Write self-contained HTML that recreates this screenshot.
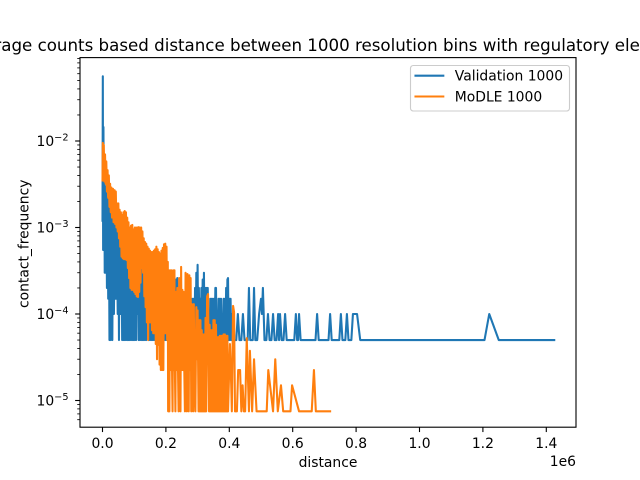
<!DOCTYPE html>
<html>
<head>
<meta charset="utf-8">
<title>Chart</title>
<style>
html,body{margin:0;padding:0;background:#fff;}
svg{display:block;font-family:"DejaVu Sans","Liberation Sans",sans-serif;fill:#000;}
</style>
</head>
<body>
<svg id="chart" width="640" height="480" viewBox="0 0 640 480" xmlns="http://www.w3.org/2000/svg">
<defs><clipPath id="plot-clip"><rect x="80" y="57.6" width="496" height="369.6"/></clipPath></defs>
<rect x="0" y="0" width="640" height="480" fill="#fff"/>
<g id="series" clip-path="url(#plot-clip)"></g>
<g id="ticks"></g>
<rect x="80" y="57.6" width="496" height="369.6" fill="none" stroke="#000" stroke-width="1.11"/>
<text x="328" y="51" font-size="16.67" text-anchor="middle">Average counts based distance between 1000 resolution bins with regulatory elements</text>
<text x="328" y="467" font-size="13.89" text-anchor="middle">distance</text>
<text x="0" y="0" font-size="13.89" text-anchor="middle" transform="translate(28.5 243.8) rotate(-90)">contact_frequency</text>
<text x="576" y="466" font-size="13.89" text-anchor="end">1e6</text>
<g>
<rect x="410.5" y="65.5" width="159" height="45.5" rx="2.8" fill="#fff" fill-opacity="0.8" stroke="#ccc" stroke-width="1.11"/>
<line x1="415.5" x2="443.3" y1="75.7" y2="75.7" stroke="#1f77b4" stroke-width="2.08" stroke-linecap="square"/>
<text x="454.8" y="80.6" font-size="13.89">Validation 1000</text>
<line x1="415.5" x2="443.3" y1="96.5" y2="96.5" stroke="#ff7f0e" stroke-width="2.08" stroke-linecap="square"/>
<text x="454.8" y="101.6" font-size="13.89">MoDLE 1000</text>
</g>
</svg>
<script>
// Distances are in kilobases; values are contact frequency.
const validationDistance = [
0,1,2,3,4,6,7,9,10,12,
14,16,18,20,22,24,26,28,31,33,
36,39,42,45,48,50,52,54,57,60,
62,64,66,68,70,72,74,76,78,80,
82,84,86,88,90,92,94,96,98,100,
102,104,106,108,110,112,114,116,118,120,
122,124,126,128,130,132,134,136,138,140,
142,144,146,148,150,152,154,156,158,160,
162,164,166,168,170,172,174,176,178,180,
182,184,186,188,190,192,194,196,198,200,
202,204,206,208,210,212,214,216,218,220,
222,224,226,228,230,232,234,236,238,240,
242,244,246,248,250,252,254,256,258,260,
262,264,266,268,270,272,274,276,278,280,
282,284,286,288,290,292,294,296,298,300,
302,304,306,308,310,312,314,316,318,320,
322,324,326,328,330,332,334,336,338,340,
342,344,346,348,350,352,354,356,358,360,
362,364,366,368,370,372,374,376,378,380,
382,384,386,388,390,392,394,396,398,400,
402,404,406,408,411,422,427,432,438,443,
448,458,462,466,474,478,482,488,494,500,
503,506,511,517,522,527,533,538,543,549,
554,557,560,565,571,576,581,605,610,614,
617,620,625,672,677,682,713,718,723,747,
752,757,766,771,776,785,790,793,797,803,
813,1205,1220,1250,1425
];
const validationValue = [
1.2e-3,5.6e-2,5.5e-4,1.45e-2,1.2e-3,3.5e-3,3e-4,3e-3,3e-4,2.5e-3,
2e-4,2.2e-3,1.5e-4,1.9e-3,5e-5,1.8e-3,5e-5,1.6e-3,5e-5,1.4e-3,
1e-4,1.3e-3,1.5e-4,1.2e-3,1e-4,1.1e-3,5e-5,1e-3,1e-4,1e-3,
5e-5,9e-4,5e-5,9e-4,5e-5,9e-4,5e-5,8.5e-4,5e-5,8e-4,
5e-5,8e-4,5e-5,8e-4,5e-5,7.5e-4,5e-5,7.5e-4,5e-5,7e-4,
5e-5,7e-4,5e-5,7e-4,1e-4,7e-4,5e-5,6.5e-4,5e-5,6e-4,
5e-5,5.5e-4,5e-5,5e-4,5e-5,5e-4,5e-5,5e-4,5e-5,4.8e-4,
1e-4,4.8e-4,5e-5,4.6e-4,5e-5,4.5e-4,5e-5,4.5e-4,5e-5,4.2e-4,
5e-5,4.2e-4,5e-5,4e-4,5e-5,3.8e-4,5e-5,3.6e-4,5e-5,3.4e-4,
5e-5,3.2e-4,5e-5,3e-4,5e-5,2.6e-4,5e-5,2.5e-4,5e-5,2.4e-4,
5e-5,2.4e-4,5e-5,2.6e-4,5e-5,2.4e-4,5e-5,2.2e-4,5e-5,2.2e-4,
5e-5,2.2e-4,5e-5,2.2e-4,5e-5,2.5e-4,5e-5,2.6e-4,5e-5,2e-4,
5e-5,2e-4,5e-5,1.5e-4,5e-5,1.5e-4,5e-5,1.5e-4,5e-5,1.5e-4,
5e-5,1.5e-4,5e-5,1.5e-4,5e-5,1.5e-4,5e-5,1.5e-4,5e-5,1.5e-4,
5e-5,1.5e-4,5e-5,1.5e-4,5e-5,2e-4,5e-5,3e-4,5e-5,3.7e-4,
5e-5,2e-4,5e-5,1.5e-4,5e-5,2e-4,5e-5,2.5e-4,5e-5,3e-4,
5e-5,2e-4,5e-5,2e-4,5e-5,2e-4,5e-5,1e-4,5e-5,1.5e-4,
5e-5,1.5e-4,5e-5,1.5e-4,5e-5,1.5e-4,5e-5,2e-4,2e-4,5e-5,
1e-4,5e-5,1.5e-4,5e-5,1.5e-4,5e-5,1.5e-4,5e-5,1e-4,5e-5,
1.5e-4,5e-5,1.5e-4,5e-5,2e-4,5e-5,2.5e-4,2.6e-4,5e-5,1.5e-4,
5e-5,1.5e-4,5e-5,1e-4,5e-5,5e-5,1e-4,5e-5,5e-5,1e-4,
5e-5,5e-5,2e-4,5e-5,5e-5,2e-4,5e-5,5e-5,1e-4,1.5e-4,
1e-4,2e-4,5e-5,5e-5,1e-4,5e-5,5e-5,1e-4,5e-5,5e-5,
1e-4,5e-5,1e-4,5e-5,5e-5,1e-4,5e-5,5e-5,1e-4,5e-5,
5e-5,1e-4,5e-5,5e-5,1e-4,5e-5,5e-5,1e-4,5e-5,5e-5,
1e-4,5e-5,5e-5,1e-4,5e-5,5e-5,1e-4,1e-4,1e-4,1e-4,
5e-5,5e-5,1e-4,5e-5,5e-5
];
const modleDistance = [
0,1,3,4,6,8,10,12,14,16,
18,20,22,24,26,28,30,33,35,38,
40,42,44,46,48,50,52,54,56,58,
60,62,64,66,68,70,72,74,76,78,
80,82,84,86,88,90,92,94,96,98,
100,102,104,106,108,110,112,114,116,118,
120,122,124,126,128,130,132,134,136,138,
140,142,144,146,148,150,152,154,156,158,
160,162,164,166,168,170,172,174,176,178,
180,182,184,186,188,190,192,194,196,198,
200,202,204,206,207,209,211,213,215,217,
219,221,223,225,227,228,230,232,234,236,
238,240,242,244,246,248,250,252,254,256,
258,260,262,264,266,268,270,272,274,276,
278,280,282,284,286,288,290,293,296,298,
300,303,305,307,309,311,313,315,317,319,
321,323,325,327,330,333,336,338,340,342,
344,346,348,350,352,354,356,358,360,362,
364,366,368,370,372,374,376,378,380,382,
384,386,388,390,392,394,396,402,406,408,
412,415,418,424,428,434,438,442,446,450,
455,462,465,472,478,486,518,523,538,545,
553,563,570,593,598,620,660,667,673,718
];
const modleValue = [
3.5e-3,9.5e-3,3.6e-3,9e-3,3.4e-3,7e-3,3.2e-3,5.8e-3,2.6e-3,4.6e-3,
2.2e-3,4e-3,1.73e-3,3.2e-3,1.5e-3,2.9e-3,1.3e-3,2.8e-3,1.15e-3,2.7e-3,
1.1e-3,2.6e-3,1e-3,1.9e-3,9e-4,1.9e-3,7.5e-4,1.6e-3,6e-4,1.5e-3,
4.6e-4,1.4e-3,4.4e-4,1.5e-3,4.3e-4,1.55e-3,4.3e-4,1.5e-3,4.2e-4,1.3e-3,
3.4e-4,1.15e-3,2.6e-4,1e-3,2e-4,1.05e-3,1.9e-4,1.07e-3,1.9e-4,9.5e-4,
1.8e-4,1e-3,1.7e-4,1e-3,1.6e-4,1e-3,1.57e-4,1.01e-3,1.8e-4,1e-3,
2.3e-4,1e-3,3.4e-4,9e-4,3e-4,7.5e-4,1.6e-4,6.8e-4,1.2e-4,6.5e-4,
8e-5,6e-4,5e-5,5.7e-4,8e-5,5.4e-4,8e-5,5.2e-4,6.5e-5,5.2e-4,
6e-5,5.4e-4,6e-5,5.6e-4,4.5e-5,6e-4,3e-5,5.6e-4,4.4e-5,5.2e-4,
2.6e-5,5e-4,2.25e-5,5.4e-4,2.25e-5,5.8e-4,2.25e-5,6.4e-4,6e-5,6.5e-4,
6e-5,6e-4,5e-5,4e-4,7.5e-6,3.2e-4,7.5e-6,3.2e-4,2.25e-5,3.2e-4,
3e-5,7.5e-6,3.2e-4,2.25e-5,3.2e-4,3e-5,7.5e-6,1.8e-4,2.25e-5,2e-4,
2.6e-5,7.5e-6,2.6e-4,2.25e-5,7.5e-6,3.5e-4,2.25e-5,1.9e-4,2.25e-5,1.8e-4,
2.25e-5,7.5e-6,3e-4,2.25e-5,7.5e-6,2.9e-4,2.25e-5,7.5e-6,2.8e-4,2.25e-5,
2.6e-4,7.5e-6,1.3e-4,2.25e-5,7.5e-6,1.3e-4,2.25e-5,7.5e-6,1.2e-4,3e-5,
1.1e-4,7.5e-6,8.5e-5,7.5e-6,8.5e-5,7.5e-6,6.5e-5,7.5e-6,5.8e-5,7.5e-6,
5.8e-5,7.5e-6,9e-5,7.5e-6,1.6e-4,1.7e-4,7.5e-6,7.5e-5,7.5e-6,6.5e-5,
7.5e-6,6.5e-5,7.5e-6,8.5e-5,7.5e-6,8.5e-5,7.5e-6,7.5e-5,7.5e-6,5.4e-5,
7.5e-6,5.4e-5,7.5e-6,5.6e-5,7.5e-6,5.6e-5,7.5e-6,5.6e-5,7.5e-6,5.8e-5,
7.5e-6,5.8e-5,7.5e-6,5.6e-5,7.5e-6,5.6e-5,7.5e-6,4.5e-5,1.5e-5,7.5e-6,
1.24e-4,1.05e-4,7.5e-6,7.5e-6,2.25e-5,2.25e-5,7.5e-6,1.5e-5,7.5e-6,7.5e-6,
5.25e-5,7.5e-6,3.75e-5,7.5e-6,3e-5,7.5e-6,7.5e-6,2.25e-5,7.5e-6,3e-5,
7.5e-6,1.5e-5,7.5e-6,7.5e-6,1.5e-5,7.5e-6,7.5e-6,2.25e-5,7.5e-6,7.5e-6
];
const xTickValues = [0, 200, 400, 600, 800, 1000, 1200, 1400];
const xTickLabels = ["0.0", "0.2", "0.4", "0.6", "0.8", "1.0", "1.2", "1.4"];
const yTickValues = [1e-2, 1e-3, 1e-4, 1e-5];
const yTickLabels = ["\u22122", "\u22123", "\u22124", "\u22125"];
const yMinorValues = [
6e-6,7e-6,8e-6,9e-6,
2e-5,3e-5,4e-5,5e-5,6e-5,7e-5,8e-5,9e-5,
2e-4,3e-4,4e-4,5e-4,6e-4,7e-4,8e-4,9e-4,
2e-3,3e-3,4e-3,5e-3,6e-3,7e-3,8e-3,9e-3,
2e-2,3e-2,4e-2,5e-2,6e-2,7e-2,8e-2,9e-2
];

const NS = 'http://www.w3.org/2000/svg';
function xScale(kb) { return 102.5 + kb * 0.317; }
function yScale(v) { return 400.5 - (Math.log10(v) + 5) * 86.5; }

function drawSeries(dist, vals, color, name) {
  const n = Math.min(dist.length, vals.length);
  let d = '';
  for (let i = 0; i < n; i++) {
    d += (i ? 'L' : 'M') + xScale(dist[i]).toFixed(2) + ' ' + yScale(vals[i]).toFixed(2);
  }
  const p = document.createElementNS(NS, 'path');
  
  
  p.setAttribute('d', d);
  p.setAttribute('fill', 'none');
  p.setAttribute('stroke', color);
  p.setAttribute('stroke-width', '2.08');
  p.setAttribute('stroke-linejoin', 'round');
  p.setAttribute('stroke-linecap', 'square');
  document.getElementById('series').appendChild(p);
}
drawSeries(validationDistance, validationValue, '#1f77b4', 'validation-1000-line');
drawSeries(modleDistance, modleValue, '#ff7f0e', 'modle-1000-line');

const tickGroup = document.getElementById('ticks');
function tickLine(x1, y1, x2, y2, name) {
  const l = document.createElementNS(NS, 'line');
  
  
  l.setAttribute('x1', x1);
  l.setAttribute('y1', y1);
  l.setAttribute('x2', x2);
  l.setAttribute('y2', y2);
  l.setAttribute('stroke', '#000');
  l.setAttribute('stroke-width', name === 'y-minor-tick' ? '0.83' : '1.11');
  tickGroup.appendChild(l);
}
xTickValues.forEach(function (v, i) {
  const x = xScale(v);
  tickLine(x, 427.2, x, 432.06, 'x-tick');
  const t = document.createElementNS(NS, 'text');
  
  
  t.setAttribute('x', x);
  t.setAttribute('y', 448);
  t.setAttribute('font-size', '13.89');
  t.setAttribute('text-anchor', 'middle');
  t.textContent = xTickLabels[i];
  tickGroup.appendChild(t);
});
yTickValues.forEach(function (v, i) {
  const y = yScale(v);
  tickLine(75.14, y, 80, y, 'y-tick');
  const t = document.createElementNS(NS, 'text');
  
  
  t.setAttribute('x', 68.5);
  t.setAttribute('y', y + 5.2);
  t.setAttribute('font-size', '13.89');
  t.setAttribute('text-anchor', 'end');
  t.appendChild(document.createTextNode('10'));
  const s = document.createElementNS(NS, 'tspan');
  
  
  s.setAttribute('font-size', '9.72');
  s.setAttribute('dy', '-5.8');
  s.textContent = yTickLabels[i];
  t.appendChild(s);
  tickGroup.appendChild(t);
});
yMinorValues.forEach(function (v) {
  const y = yScale(v);
  tickLine(77.22, y, 80, y, 'y-minor-tick');
});
</script>
</body>
</html>
